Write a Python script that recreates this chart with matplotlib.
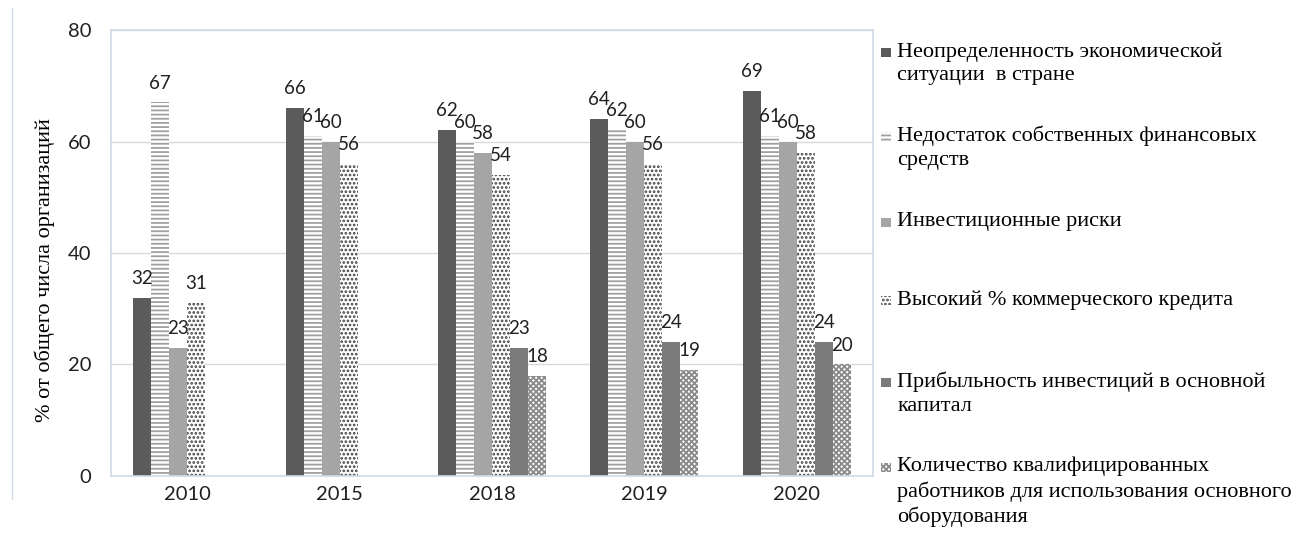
import numpy as np
import matplotlib
matplotlib.use("Agg")
import matplotlib.pyplot as plt
from matplotlib.patches import Patch, Rectangle
from matplotlib.legend_handler import HandlerPatch

years = ["2010", "2015", "2018", "2019", "2020"]
series_names = [
    "Неопределенность экономической\nситуации  в стране",
    "Недостаток собственных финансовых\nсредств",
    "Инвестиционные риски",
    "Высокий % коммерческого кредита",
    "Прибыльность инвестиций в основной\nкапитал",
    "Количество квалифицированных\nработников для использования основного\nоборудования",
]
uncertainty = [32, 66, 62, 64, 69]
own_funds = [67, 61, 60, 62, 61]
invest_risk = [23, 60, 58, 60, 60]
credit_rate = [31, 56, 54, 56, 58]
profitability = [np.nan, np.nan, 23, 24, 24]
qualified_staff = [np.nan, np.nan, 18, 19, 20]
values = [uncertainty, own_funds, invest_risk, credit_rate, profitability, qualified_staff]

# fill, edge(hatch) colour, hatch
styles = [
    ("#5b5b5b", "#5b5b5b", None),
    ("white", "#a0a0a0", "----"),
    ("#a5a5a5", "#a5a5a5", None),
    ("white", "#404040", "...."),
    ("#7b7b7b", "#7b7b7b", None),
    ("white", "#8a8a8a", "xxxxxx"),
]

plt.rcParams["hatch.linewidth"] = 1.3

fig = plt.figure(figsize=(12.98, 5.42), dpi=100)
ax = fig.add_axes([0.0855, 0.1218, 0.587, 0.8228])

x = np.arange(len(years))
w = 0.118
for k, (vals, (fc, ec, hatch)) in enumerate(zip(values, styles)):
    pos = x + (k - 2.5) * w
    v = np.array(vals, dtype=float)
    ax.bar(pos, np.nan_to_num(v), w, color=fc, edgecolor=ec, hatch=hatch,
           linewidth=0, zorder=2)
    for xi, vi in zip(pos, v):
        if not np.isnan(vi):
            ax.annotate(f"{int(vi)}", (xi, vi), xytext=(0, 14),
                        textcoords="offset points", ha="center", va="center",
                        fontsize=13.5, family="Lato", color="#202020", zorder=3)

ax.set_ylim(0, 80)
ax.set_xlim(-0.5, len(years) - 0.5)
ax.set_yticks([0, 20, 40, 60, 80])
ax.set_xticks(x)
ax.set_xticklabels(years)
ax.yaxis.grid(True, color="#d9d9d9", lw=1, zorder=0)
ax.set_axisbelow(True)
for s in ax.spines.values():
    s.set_color("#d0d9e8")
    s.set_linewidth(1.2)
ax.tick_params(axis="both", length=0, labelsize=14.5, colors="#202020")
ax.tick_params(axis="y", pad=14)
ax.tick_params(axis="x", pad=7)
for lab in ax.get_xticklabels() + ax.get_yticklabels():
    lab.set_family("Lato")

ax.set_ylabel("% от общего числа организаций", family="Liberation Serif",
              fontsize=16)
ax.yaxis.set_label_coords(-0.074, 0.462)


def small_square(legend, orig_handle, xdescent, ydescent, width, height, fontsize):
    s = 0.42 * fontsize
    return Rectangle((-xdescent + width - s, -ydescent + (height - s) / 2), s, s)


# legend entries spread down the right side like the original
leg_top = [42, 126, 212, 290, 372, 457]
for name, (fc, ec, hatch), yt in zip(series_names, styles, leg_top):
    h = Patch(facecolor=fc, edgecolor=ec, hatch=hatch, linewidth=0)
    leg = fig.legend([h], [name], loc="upper left",
                     bbox_to_anchor=(0.676, 1 - yt / 542), frameon=False,
                     prop={"family": "Liberation Serif", "size": 16},
                     handlelength=0.6, handleheight=1.05, handletextpad=0.3,
                     borderpad=0, borderaxespad=0,
                     handler_map={Patch: HandlerPatch(patch_func=small_square)})
    leg.texts[0].set_linespacing(1.3)
    for col in leg._legend_handle_box.get_children():
        for item in col.get_children():
            item.align = "top"

fig.add_artist(plt.Line2D([0.0095, 0.0095], [0.08, 0.985], color="#d0d9e8",
                          lw=1, transform=fig.transFigure))

fig.savefig("out.png", dpi=100)
